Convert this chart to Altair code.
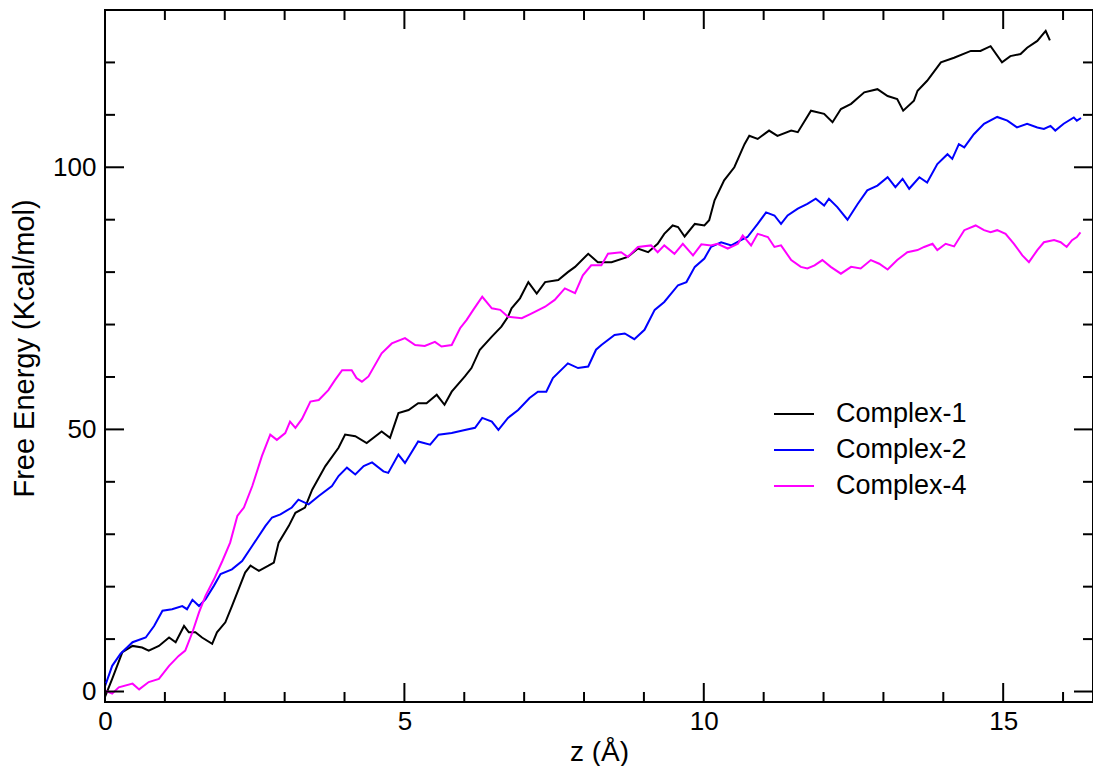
import altair as alt
import pandas as pd

series_names = ["Complex-1", "Complex-2", "Complex-4"]
series_colors = ["#000000", "#0000ff", "#ff00ff"]

complex1_points = [
    (0.0, -1.0), (0.12, 2.4), (0.29, 7.5), (0.46, 8.7), (0.62, 8.4), (0.73, 7.8), (0.9, 8.7),
    (1.07, 10.3), (1.18, 9.4), (1.32, 12.5), (1.4, 11.3), (1.51, 11.3), (1.62, 10.3), (1.79, 9.1),
    (1.87, 11.3), (2.01, 13.2), (2.12, 16.3), (2.23, 19.5), (2.34, 22.7), (2.43, 24.0), (2.57, 23.0),
    (2.73, 24.0), (2.82, 24.6), (2.9, 28.4), (3.07, 31.6), (3.18, 34.1), (3.34, 35.1), (3.46, 38.5),
    (3.68, 43.0), (3.9, 46.5), (4.01, 49.0), (4.18, 48.7), (4.37, 47.4), (4.62, 49.6), (4.76, 48.4),
    (4.9, 53.1), (5.07, 53.7), (5.23, 55.0), (5.37, 55.0), (5.54, 56.6), (5.67, 54.7), (5.79, 57.2),
    (6.01, 60.1), (6.12, 61.7), (6.26, 65.2), (6.46, 67.7), (6.62, 69.6), (6.73, 71.5), (6.79, 73.1),
    (6.93, 75.0), (7.07, 78.1), (7.21, 75.9), (7.35, 78.1), (7.57, 78.5), (7.73, 80.0), (7.85, 81.0),
    (8.07, 83.5), (8.23, 81.9), (8.46, 81.9), (8.73, 82.9), (8.9, 84.5), (9.07, 83.8), (9.23, 85.4),
    (9.34, 87.3), (9.48, 88.9), (9.57, 88.6), (9.68, 86.8), (9.85, 89.2), (10.01, 88.9), (10.09, 89.9),
    (10.18, 93.7), (10.34, 97.5), (10.51, 100.0), (10.68, 104.4), (10.76, 106.0), (10.9, 105.4),
    (11.09, 107.0), (11.23, 106.0), (11.46, 107.0), (11.57, 106.7), (11.79, 110.8), (12.01, 110.2),
    (12.15, 108.6), (12.29, 111.1), (12.46, 112.1), (12.68, 114.3), (12.9, 114.9), (13.07, 113.6),
    (13.23, 113.0), (13.33, 110.8), (13.51, 112.7), (13.57, 114.6), (13.73, 116.5), (13.96, 120.0),
    (14.18, 120.9), (14.46, 122.2), (14.62, 122.2), (14.79, 123.1), (14.98, 120.0), (15.12, 121.2),
    (15.29, 121.6), (15.4, 122.8), (15.57, 124.1), (15.71, 126.0), (15.78, 124.2),
]

complex2_points = [
    (0.0, 1.0), (0.12, 4.9), (0.26, 7.2), (0.46, 9.4), (0.68, 10.3), (0.82, 12.5), (0.96, 15.4),
    (1.12, 15.7), (1.29, 16.3), (1.37, 15.7), (1.46, 17.5), (1.57, 16.3), (1.68, 17.6), (1.82, 20.2),
    (1.93, 22.4), (2.12, 23.3), (2.29, 24.9), (2.46, 27.8), (2.68, 31.6), (2.79, 33.2), (2.93, 33.8),
    (3.12, 35.1), (3.23, 36.6), (3.4, 35.7), (3.57, 37.3), (3.79, 39.2), (3.9, 41.1), (4.04, 42.7),
    (4.18, 41.4), (4.32, 43.0), (4.46, 43.7), (4.65, 42.0), (4.73, 41.7), (4.9, 45.2), (5.01, 43.6),
    (5.23, 47.7), (5.43, 47.1), (5.57, 49.0), (5.79, 49.3), (6.01, 49.9), (6.18, 50.3), (6.3, 52.2),
    (6.46, 51.5), (6.57, 49.9), (6.73, 52.2), (6.9, 53.7), (7.09, 56.0), (7.23, 57.2), (7.37, 57.2),
    (7.48, 59.8), (7.73, 62.6), (7.9, 61.7), (8.07, 62.0), (8.2, 65.2), (8.29, 66.1), (8.51, 68.0),
    (8.68, 68.3), (8.84, 67.2), (9.01, 69.0), (9.18, 72.8), (9.34, 74.3), (9.57, 77.5), (9.71, 78.1),
    (9.85, 81.0), (10.01, 82.6), (10.12, 84.8), (10.29, 85.7), (10.46, 85.1), (10.62, 86.1),
    (10.73, 86.7), (10.9, 89.2), (11.04, 91.4), (11.18, 90.8), (11.29, 89.2), (11.4, 90.8),
    (11.57, 92.1), (11.73, 93.0), (11.87, 94.0), (12.01, 92.7), (12.09, 94.0), (12.23, 92.4),
    (12.4, 90.0), (12.57, 93.0), (12.73, 95.6), (12.9, 96.5), (13.07, 98.1), (13.2, 96.2),
    (13.32, 97.8), (13.43, 95.9), (13.6, 98.1), (13.73, 97.1), (13.9, 100.6), (14.07, 102.5),
    (14.15, 101.6), (14.26, 104.4), (14.35, 103.8), (14.51, 106.3), (14.68, 108.3), (14.9, 109.6),
    (15.07, 108.9), (15.23, 107.6), (15.4, 108.3), (15.57, 107.6), (15.68, 107.3), (15.79, 107.9),
    (15.87, 107.0), (16.01, 108.3), (16.18, 109.5), (16.23, 108.9), (16.3, 109.4),
]

complex4_points = [
    (0.0, 0.2), (0.12, -0.4), (0.23, 0.8), (0.46, 1.5), (0.57, 0.4), (0.73, 1.8), (0.9, 2.4),
    (1.07, 4.9), (1.23, 6.8), (1.34, 7.8), (1.46, 11.3), (1.57, 15.1), (1.68, 18.3), (1.82, 21.4),
    (1.96, 24.9), (2.09, 28.4), (2.21, 33.5), (2.32, 35.1), (2.46, 39.2), (2.62, 44.9), (2.76, 49.0),
    (2.87, 48.0), (3.01, 49.3), (3.09, 51.5), (3.18, 50.3), (3.29, 52.0), (3.43, 55.3), (3.57, 55.6),
    (3.73, 57.5), (3.84, 59.4), (3.96, 61.3), (4.12, 61.3), (4.2, 59.8), (4.29, 59.1), (4.4, 60.1),
    (4.62, 64.5), (4.79, 66.4), (5.01, 67.4), (5.18, 66.1), (5.34, 65.9), (5.51, 66.7), (5.62, 65.8),
    (5.79, 66.1), (5.93, 69.3), (6.04, 70.9), (6.15, 72.8), (6.3, 75.3), (6.46, 73.1), (6.6, 72.8),
    (6.73, 71.5), (6.96, 71.2), (7.12, 72.1), (7.35, 73.4), (7.51, 74.7), (7.68, 76.9), (7.85, 76.0),
    (7.98, 79.4), (8.12, 81.3), (8.29, 81.3), (8.4, 83.5), (8.62, 83.8), (8.73, 82.9), (8.9, 84.8),
    (9.12, 85.1), (9.23, 83.8), (9.34, 85.1), (9.51, 83.5), (9.65, 85.4), (9.82, 83.2), (9.96, 85.3),
    (10.12, 85.1), (10.23, 85.4), (10.4, 84.5), (10.57, 85.4), (10.65, 87.0), (10.79, 85.1),
    (10.9, 87.3), (11.07, 86.7), (11.18, 84.8), (11.29, 85.1), (11.46, 82.3), (11.62, 81.0),
    (11.73, 80.7), (11.85, 81.3), (11.98, 82.3), (12.12, 81.0), (12.29, 79.7), (12.46, 81.0),
    (12.62, 80.7), (12.79, 82.3), (12.93, 81.6), (13.07, 80.5), (13.23, 82.3), (13.4, 83.8),
    (13.57, 84.2), (13.68, 84.8), (13.82, 85.4), (13.9, 84.2), (14.04, 85.4), (14.18, 84.9),
    (14.35, 88.0), (14.54, 88.9), (14.68, 88.0), (14.79, 87.6), (14.9, 88.0), (15.04, 87.3),
    (15.18, 85.4), (15.32, 83.2), (15.43, 81.9), (15.57, 84.2), (15.68, 85.7), (15.85, 86.1),
    (15.96, 85.7), (16.06, 84.8), (16.15, 86.1), (16.23, 86.7), (16.29, 87.6),
]

x_major_ticks = [0, 5, 10, 15]
x_minor_ticks = [1, 2, 3, 4, 6, 7, 8, 9, 11, 12, 13, 14, 16]
y_major_ticks = [0, 50, 100]
y_minor_ticks = [10, 20, 30, 40, 60, 70, 80, 90, 110, 120]

rows = []
for name, pts in zip(series_names, [complex1_points, complex2_points, complex4_points]):
    for i, (xv, yv) in enumerate(pts):
        rows.append({"z": xv, "energy": yv, "series": name, "idx": i})
df = pd.DataFrame(rows)

W, H = 988, 692
MAJOR, MINOR = 19, 10
FONT = "Liberation Sans"

xscale = alt.Scale(domain=[0, 16.5], nice=False, zero=False)
yscale = alt.Scale(domain=[-2, 130], nice=False, zero=False)

x_axis = alt.Axis(values=x_major_ticks, title="z (Å)", ticks=False, tickSize=0,
                  domain=False, grid=False, labelFontSize=26, titleFontSize=28,
                  labelFont=FONT, titleFont=FONT, titleFontWeight="normal",
                  labelColor="black", titleColor="black", labelPadding=6,
                  titlePadding=4, format="d", labelFlush=False)
y_axis = alt.Axis(values=y_major_ticks, title="Free Energy (Kcal/mol)", ticks=False,
                  tickSize=0, domain=False, grid=False, labelFontSize=26,
                  titleFontSize=29, labelFont=FONT, titleFont=FONT,
                  titleFontWeight="normal", labelColor="black", titleColor="black",
                  labelPadding=9, titlePadding=13, titleY=338, format="d",
                  labelFlush=False)

lines = alt.Chart(df).mark_line(strokeWidth=2).encode(
    x=alt.X("z:Q", scale=xscale, axis=x_axis),
    y=alt.Y("energy:Q", scale=yscale, axis=y_axis),
    color=alt.Color("series:N",
                    scale=alt.Scale(domain=series_names, range=series_colors),
                    legend=alt.Legend(title=None, orient="none", legendX=668, legendY=386,
                                      symbolType="stroke", symbolSize=1600,
                                      symbolStrokeWidth=2, labelFontSize=27, labelFont=FONT,
                                      labelColor="black", labelOffset=21, clipHeight=36,
                                      rowPadding=0, padding=0, labelLimit=400)),
    order="idx:Q",
)

def xticks(values, length, side):
    d = pd.DataFrame({"z": values})
    if side == "bottom":
        yv, y2v = alt.value(H), alt.value(H - length)
    else:
        yv, y2v = alt.value(0), alt.value(length)
    return alt.Chart(d).mark_rule(color="black", strokeWidth=2).encode(
        x=alt.X("z:Q", scale=xscale, axis=x_axis), y=yv, y2=y2v)

def yticks(values, length, side):
    d = pd.DataFrame({"energy": values})
    if side == "left":
        xv, x2v = alt.value(0), alt.value(length)
    else:
        xv, x2v = alt.value(W), alt.value(W - length)
    return alt.Chart(d).mark_rule(color="black", strokeWidth=2).encode(
        y=alt.Y("energy:Q", scale=yscale, axis=y_axis), x=xv, x2=x2v)

tick_layers = []
for side in ["bottom", "top"]:
    tick_layers.append(xticks(x_major_ticks, MAJOR, side))
    tick_layers.append(xticks(x_minor_ticks, MINOR, side))
for side in ["left", "right"]:
    tick_layers.append(yticks(y_major_ticks, MAJOR, side))
    tick_layers.append(yticks(y_minor_ticks, MINOR, side))

chart = alt.layer(lines, *tick_layers).properties(
    width=W, height=H,
    autosize=alt.AutoSizeParams(type="none"),
    padding={"left": 97, "top": 2, "right": 0, "bottom": 64},
).configure_view(stroke="black", strokeWidth=2)

chart.save("out.html", embed_options={"renderer": "svg", "actions": False})
